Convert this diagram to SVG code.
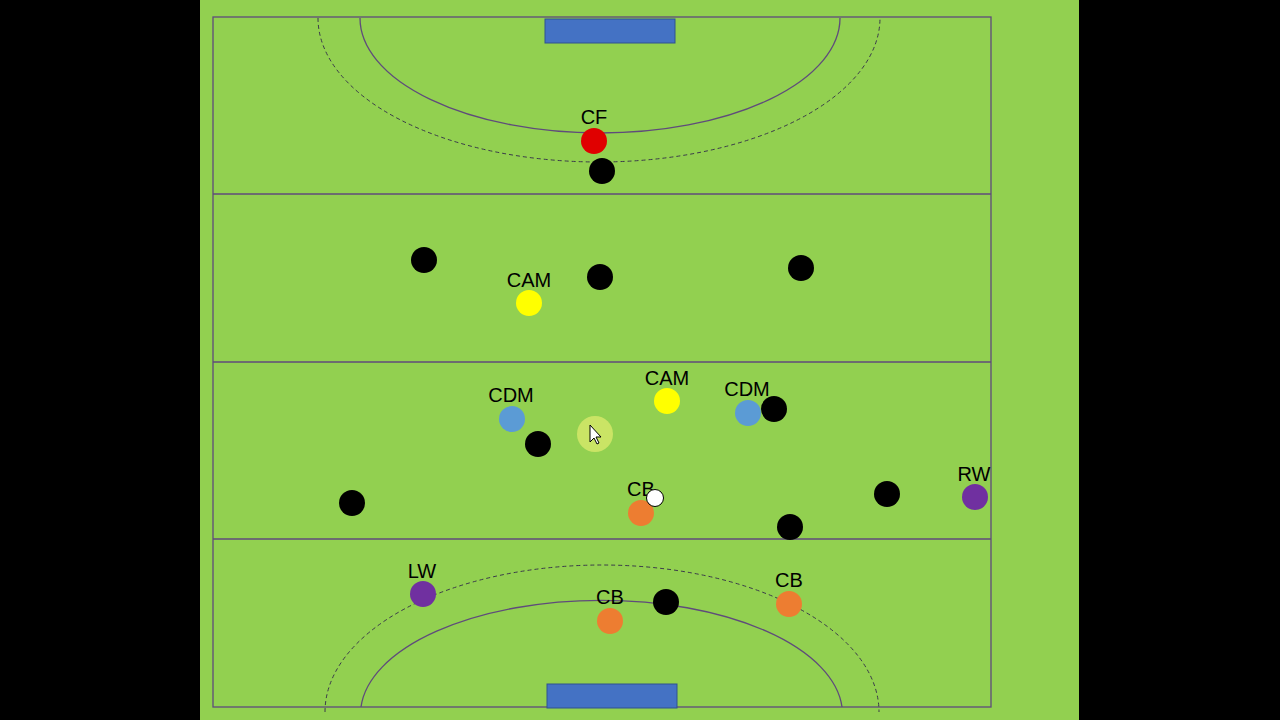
<svg xmlns="http://www.w3.org/2000/svg" width="1280" height="720" viewBox="0 0 1280 720">
<style>
.ln{fill:none;stroke:#5f4b7b;stroke-width:1.3}
.ds{fill:none;stroke:#3a3a4a;stroke-width:1;stroke-dasharray:4 3}
.goal{fill:#4472c4;stroke:#2f528f;stroke-width:1}
.blk{fill:#000}
.t{font-family:"Liberation Sans",Arial,sans-serif;font-size:20px;fill:#000;text-anchor:middle}
</style>
<rect width="1280" height="720" fill="#000"/>
<rect x="200" y="0" width="879" height="720" fill="#92d050"/>
<rect class="ln" x="213" y="17" width="778" height="690"/>
<line class="ln" x1="213" y1="194" x2="991" y2="194"/>
<line class="ln" x1="213" y1="362" x2="991" y2="362"/>
<line class="ln" x1="213" y1="539" x2="991" y2="539"/>
<path class="ln" d="M360 18 A240 115 0 0 0 840 18"/>
<path class="ds" d="M318 18 A281 144 0 0 0 880 18"/>
<path class="ln" d="M361 707 A241 114 0 0 1 842 707"/>
<path class="ds" d="M325 712 A277 147 0 0 1 879 712"/>
<rect class="goal" x="545" y="19" width="130" height="24"/>
<rect class="goal" x="547" y="684" width="130" height="24"/>
<g id="opponents">
<circle class="blk" cx="602" cy="171" r="13"/>
<circle class="blk" cx="424" cy="260" r="13"/>
<circle class="blk" cx="600" cy="277" r="13"/>
<circle class="blk" cx="801" cy="268" r="13"/>
<circle class="blk" cx="538" cy="444" r="13"/>
<circle class="blk" cx="774" cy="409" r="13"/>
<circle class="blk" cx="352" cy="503" r="13"/>
<circle class="blk" cx="887" cy="494" r="13"/>
<circle class="blk" cx="790" cy="527" r="13"/>
<circle class="blk" cx="666" cy="602" r="13"/>
</g>
<g id="cf"><circle cx="594" cy="141" r="13" fill="#e00000"/><text class="t" x="594" y="124">CF</text></g>
<g id="cam1"><circle cx="529" cy="303" r="13" fill="#ffff00"/><text class="t" x="529" y="287">CAM</text></g>
<g id="cdm1"><circle cx="512" cy="419" r="13" fill="#5b9bd5"/><text class="t" x="511" y="402">CDM</text></g>
<g id="cam2"><circle cx="667" cy="401" r="13" fill="#ffff00"/><text class="t" x="667" y="385">CAM</text></g>
<g id="cdm2"><circle cx="748" cy="413" r="13" fill="#5b9bd5"/><text class="t" x="747" y="396">CDM</text></g>
<g id="cursor"><circle cx="595" cy="434" r="18" fill="#d8e86a" opacity="0.8"/><path d="M590 425 L590 442 L594 438 L597 444 L599 443 L596 437 L601 437 Z" fill="#fff" stroke="#000" stroke-width="1"/></g>
<g id="cb1"><circle cx="641" cy="513" r="13" fill="#ed7d31"/><text class="t" x="641" y="496">CB</text><circle cx="655" cy="498" r="8.5" fill="#fff" stroke="#000" stroke-width="1"/></g>
<g id="rw"><circle cx="975" cy="497" r="13" fill="#7030a0"/><text class="t" x="974" y="481">RW</text></g>
<g id="lw"><circle cx="423" cy="594" r="13" fill="#7030a0"/><text class="t" x="422" y="578">LW</text></g>
<g id="cb2"><circle cx="610" cy="621" r="13" fill="#ed7d31"/><text class="t" x="610" y="604">CB</text></g>
<g id="cb3"><circle cx="789" cy="604" r="13" fill="#ed7d31"/><text class="t" x="789" y="587">CB</text></g>
</svg>
